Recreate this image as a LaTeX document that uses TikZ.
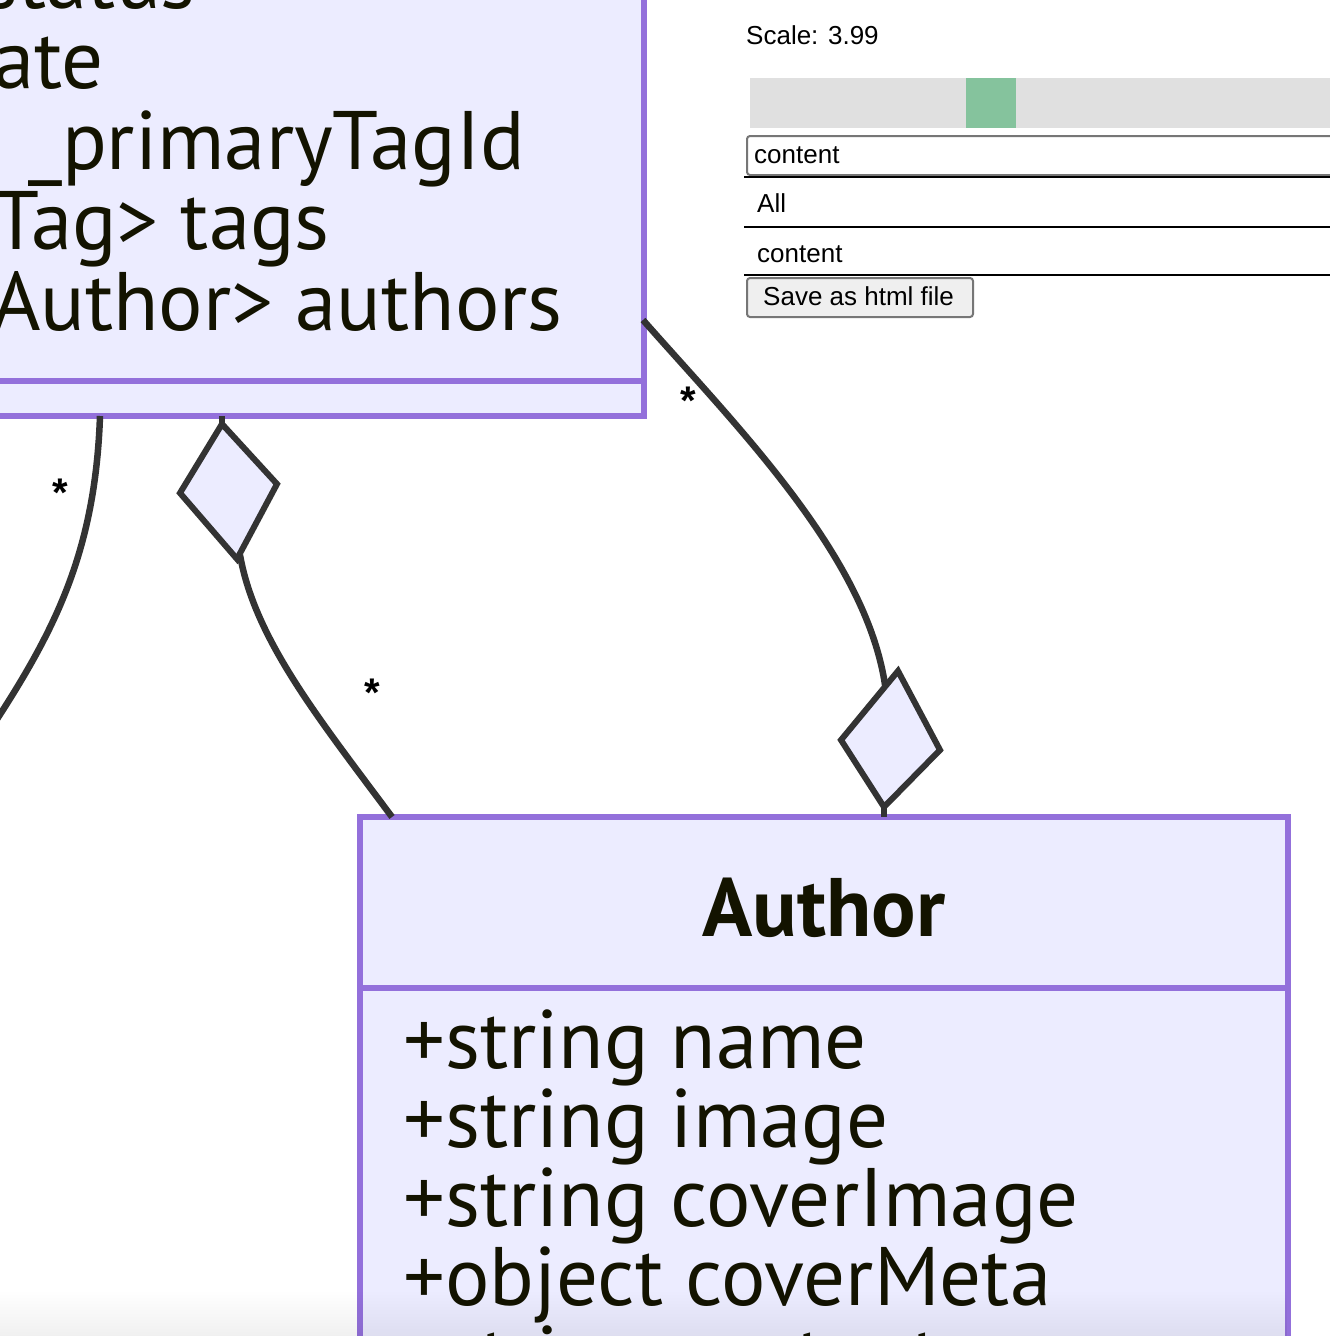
\documentclass[tikz,border=0pt]{standalone}
\usepackage{fontspec}
\setmainfont{PT Sans}
\newfontfamily\uifont{Liberation Sans}
\usetikzlibrary{fadings}
\definecolor{boxfill}{HTML}{ECECFF}
\definecolor{boxline}{HTML}{9370DB}
\definecolor{edgecol}{HTML}{333333}
\definecolor{txt}{HTML}{131300}
\definecolor{bargray}{HTML}{E0E0E0}
\definecolor{bargreen}{HTML}{85C39D}
\definecolor{ctrlborder}{HTML}{767676}
\definecolor{btnfill}{HTML}{EFEFEF}
\begin{document}
\begin{tikzpicture}[x=1pt,y=-1pt,
  classbox/.style={draw=boxline, fill=boxfill, line width=6.5pt, inner sep=0pt, outer sep=0pt},
  divider/.style={draw=boxline, line width=6.5pt},
  member/.style={inner sep=0pt, text=txt, font=\fontsize{83}{83}\selectfont},
  classtitle/.style={inner sep=0pt, text=txt, font=\fontsize{83}{83}\selectfont\bfseries},
  edgeline/.style={draw=edgecol, line width=6.5pt},
  diamondmark/.style={draw=edgecol, fill=boxfill, line width=6pt, line join=miter},
  mult/.style={inner sep=0pt, font=\uifont\bfseries\fontsize{40}{40}\selectfont},
  uitext/.style={inner sep=0pt, font=\uifont\fontsize{26}{26}\selectfont},
  sepline/.style={draw=black, line width=2.5pt},
  ctrl/.style={draw=ctrlborder, line width=2pt, rounded corners=3pt},
]
\useasboundingbox (0,0) rectangle (1330,1336);
\clip (0,0) rectangle (1330,1336);
\fill[white] (0,0) rectangle (1330,1336);

% ---- Post class (clipped, top-left)
\node[classbox, minimum width=800pt, minimum height=560pt, anchor=south east] (post) at (644,416) {};
\draw[divider] (post.west |- 0,381) -- (post.east |- 0,381);
\node[member, anchor=base east] (m1) at (196,8.5) {status};
\node[member, anchor=base east] (m2) at (104,88.5) {ate};
\node[member, anchor=base east] (m3) at (525,169) {\_primaryTagId};
\node[member, anchor=base east] (m4) at (330,249.5) {Tag> tags};
\node[member, anchor=base east] (m5) at (563,330) {Author> authors};

% ---- Author class
\node[classbox, minimum width=928pt, minimum height=700pt, anchor=north west] (author) at (360,817) {};
\draw[divider] (author.west |- 0,988) -- (author.east |- 0,988);
\node[classtitle, anchor=base] (atitle) at (824,936) {Author};
\node[member, anchor=base west] (a1) at (403,1068) {+string name};
\node[member, anchor=base west] (a2) at (403,1147) {+string image};
\node[member, anchor=base west] (a3) at (403,1226) {+string coverImage};
\node[member, anchor=base west] (a4) at (403,1305) {+object coverMeta};
\node[member, anchor=base west] (a5) at (403,1384) {+string content};

% ---- connector 1 (left, leaves picture)
\coordinate (pL) at (100,416);
\coordinate (offL) at (-20,745);
\draw[edgeline] (pL) .. controls (95,560) and (50,640) .. (offL);
\node[mult, anchor=base] (s1) at (60,506) {*};

% ---- connector 2 (composition, diamond at Post)
\coordinate (pM) at (222,416);
\coordinate (dA) at (222,424);
\coordinate (dB) at (277,484);
\coordinate (dC) at (237,559);
\coordinate (dD) at (180,493);
\coordinate (aL) at (392,817);
\draw[edgeline] (pM) -- (dA);
\draw[edgeline] (240,555) .. controls (255,640) and (320,720) .. (aL);
\draw[diamondmark] (dA) -- (dB) -- (dC) -- (dD) -- cycle;
\node[mult, anchor=base] (s2) at (372,706) {*};

% ---- connector 3 (composition, diamond at Author)
\coordinate (pR) at (643,320);
\coordinate (rA) at (898,671);
\coordinate (rB) at (940,750);
\coordinate (rC) at (884,807);
\coordinate (rD) at (841,740);
\coordinate (aT) at (884,817);
\draw[edgeline] (pR) .. controls (740,430) and (870,560) .. (886,692);
\draw[edgeline] (rC) -- (aT);
\draw[diamondmark] (rA) -- (rB) -- (rC) -- (rD) -- cycle;
\node[mult, anchor=base] (s3) at (688,414) {*};

% ---- UI panel
\node[uitext, anchor=base west] (scale) at (746,44) {Scale: 3.99};
\fill[bargray] (750,78) rectangle (1345,128);
\fill[bargreen] (966,78) rectangle (1016,128);
\draw[ctrl, fill=white] (747,136) rectangle (1345,175);
\node[uitext, anchor=base west] (inp) at (754,163) {content};
\draw[sepline] (744,177) -- (1345,177);
\node[uitext, anchor=base west] (all) at (757,212) {All};
\draw[sepline] (744,227) -- (1345,227);
\node[uitext, anchor=base west] (cnt) at (757,262) {content};
\draw[sepline] (744,275) -- (1345,275);
\draw[ctrl, fill=btnfill] (747,278) rectangle (973,317);
\node[uitext, anchor=base west] (btn) at (763,305) {Save as html file};

% ---- faint bottom shadow
\fill[black, opacity=0.06, path fading=north] (0,1290) rectangle (1290,1336);
\end{tikzpicture}
\end{document}
